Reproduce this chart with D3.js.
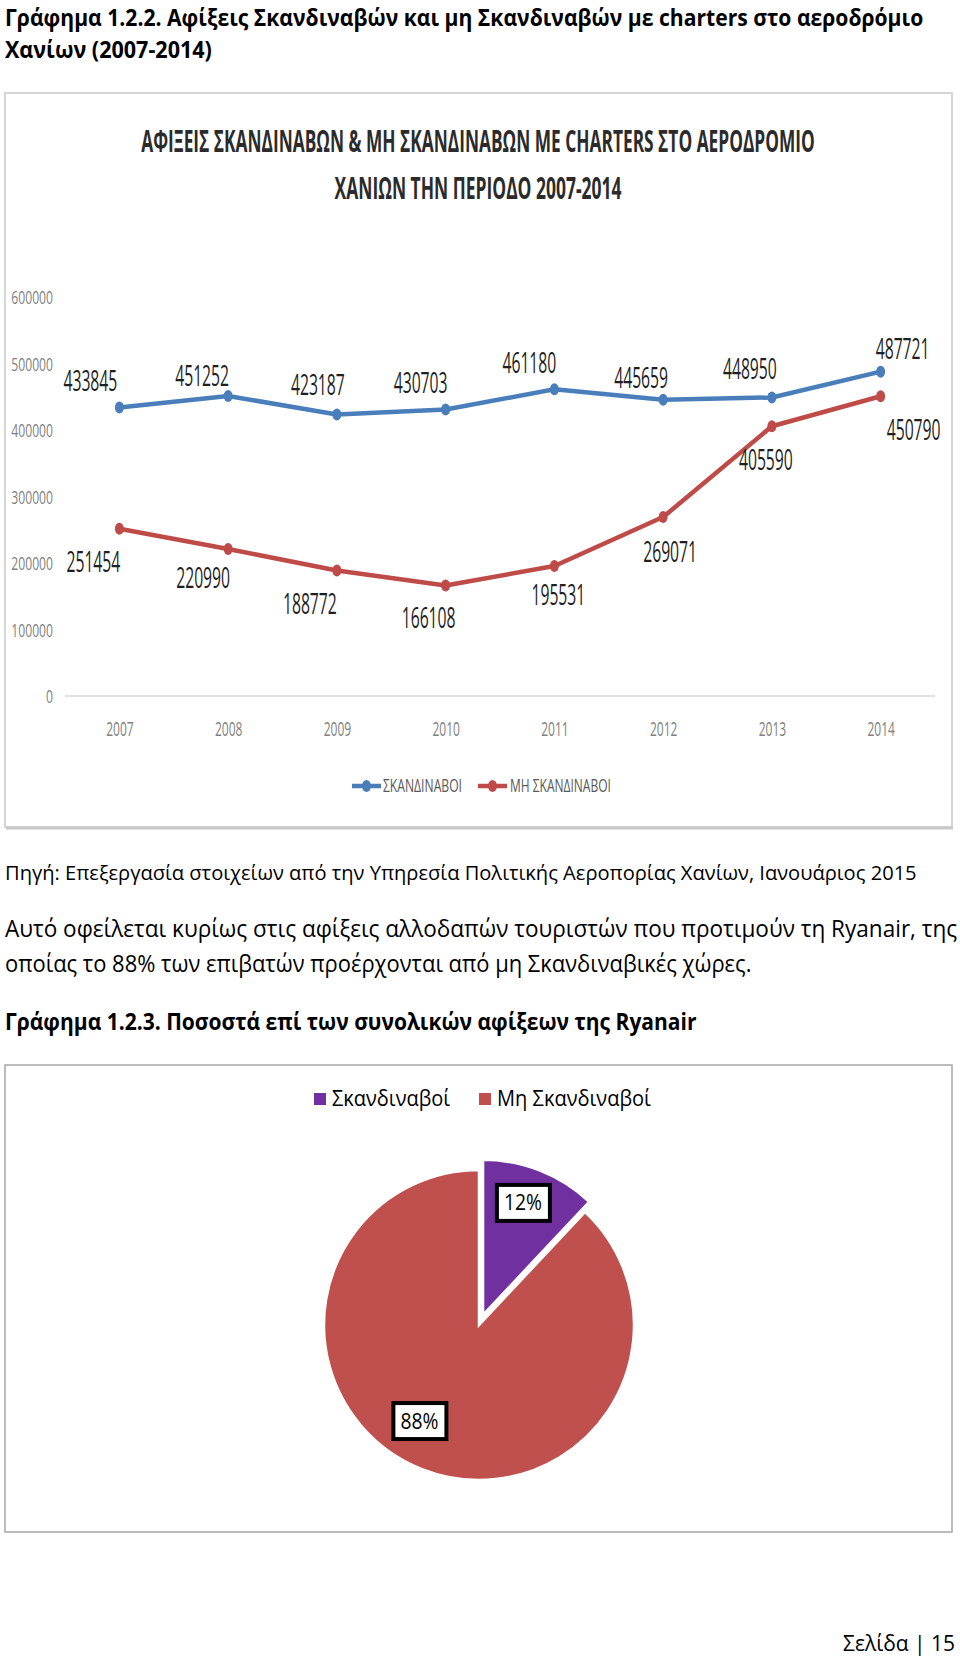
<!DOCTYPE html>
<html>
<head>
<meta charset="utf-8">
<script src="https://cdn.jsdelivr.net/npm/d3@7"></script>
<style>
  html, body { margin: 0; padding: 0; background: #fff; }
  svg { display: block; }
</style>
</head>
<body>
<svg id="page" width="960" height="1659"></svg>
<script>
// ---------- DATA ----------
const years = ["2007", "2008", "2009", "2010", "2011", "2012", "2013", "2014"];
const scandinavians = [433845, 451252, 423187, 430703, 461180, 445659, 448950, 487721];
const nonScandinavians = [251454, 220990, 188772, 166108, 195531, 269071, 405590, 450790];
const yTicks = [0, 100000, 200000, 300000, 400000, 500000, 600000];
const seriesNames = ["ΣΚΑΝΔΙΝΑΒΟΙ", "ΜΗ ΣΚΑΝΔΙΝΑΒΟΙ"];
const pieLabels = ["Σκανδιναβοί", "Μη Σκανδιναβοί"];
const pieValues = [12, 88];

// ---------- LAYOUT (label nudges, not data) ----------
const blueLabelOffsets = [[-29,-26],[-26,-20],[-19,-30],[-25,-27],[-25,-26],[-22,-22],[-22,-28],[22,-23]];
const redLabelOffsets  = [[-26,33],[-25,29],[-27,34],[-17,32],[4,29],[7,35],[-6,34],[33,34]];

const svg = d3.select("#page");
const FONT = "'Open Sans', 'Noto Sans', 'DejaVu Sans', sans-serif";
const BLUE = "#4a7ebb", RED = "#be4b48", PURPLE = "#7030a0", PIERED = "#c0504d";

// text helper: positioned with a transform, optionally squeezed horizontally to a target width
function txt(g, s, x, y, opts) {
  const t = g.append("text").attr("x", 0).attr("y", 0).text(s)
    .attr("font-family", FONT)
    .attr("font-size", opts.size || 16)
    .attr("font-weight", opts.weight || "normal")
    .attr("fill", opts.fill || "#000")
    .attr("text-anchor", opts.anchor || "start");
  let tr = `translate(${x},${y})`;
  if (opts.len) {
    const natural = t.node().getComputedTextLength();
    if (natural > 0) tr += ` scale(${(opts.len / natural).toFixed(4)},1)`;
  }
  t.attr("transform", tr);
  return t;
}

// ---------- PAGE TEXT ----------
txt(svg, "Γράφημα 1.2.2. Αφίξεις Σκανδιναβών και μη Σκανδιναβών με charters στο αεροδρόμιο", 5, 26, {size: 23.5, weight: "bold", len: 919});
txt(svg, "Χανίων (2007-2014)", 5, 58, {size: 23.5, weight: "bold", len: 207});

// ---------- LINE CHART ----------
const chart = svg.append("g");
chart.append("rect").attr("x", 5).attr("y", 93).attr("width", 947).attr("height", 734)
  .attr("fill", "#fff").attr("stroke", "#d6d6d6").attr("stroke-width", 2);
chart.append("line").attr("x1", 6).attr("x2", 953).attr("y1", 828).attr("y2", 828)
  .attr("stroke", "#c8c8c8").attr("stroke-width", 3);

txt(chart, "ΑΦΙΞΕΙΣ ΣΚΑΝΔΙΝΑΒΩΝ & ΜΗ ΣΚΑΝΔΙΝΑΒΩΝ ΜΕ CHARTERS ΣΤΟ ΑΕΡΟΔΡΟΜΙΟ", 478, 152,
  {size: 31, weight: "bold", fill: "#2b2b2b", anchor: "middle", len: 674});
txt(chart, "ΧΑΝΙΩΝ ΤΗΝ ΠΕΡΙΟΔΟ 2007-2014", 478, 199,
  {size: 31, weight: "bold", fill: "#2b2b2b", anchor: "middle", len: 287});

const x = d3.scalePoint().domain(years).range([65, 935]).padding(0.5);
const y = d3.scaleLinear().domain([0, 600000]).range([696, 297]);

// baseline gridline
chart.append("line").attr("x1", 65).attr("x2", 935).attr("y1", y(0)).attr("y2", y(0))
  .attr("stroke", "#d9d9d9").attr("stroke-width", 1.5);

// y axis
const yAxis = chart.append("g").attr("transform", "translate(65,0)")
  .call(d3.axisLeft(y).tickValues(yTicks).tickSize(0).tickFormat(d3.format("d")));
yAxis.select(".domain").remove();
yAxis.selectAll("text").attr("x", 0).attr("dy", "0.35em")
  .attr("transform", "translate(-12,0) scale(0.64,1)")
  .attr("font-family", FONT).attr("font-size", 19).attr("fill", "#7f7f7f");

// x axis
const xAxis = chart.append("g").attr("transform", `translate(0,${y(0)})`)
  .call(d3.axisBottom(x).tickSize(0));
xAxis.select(".domain").remove();
xAxis.selectAll("text").attr("y", 0).attr("dy", null)
  .attr("transform", "translate(0,40) scale(0.6,1)")
  .attr("font-family", FONT).attr("font-size", 20).attr("fill", "#7f7f7f");

const line = d3.line().x((d, i) => x(years[i])).y(d => y(d));
const series = [
  {name: seriesNames[0], values: scandinavians, color: BLUE, offs: blueLabelOffsets},
  {name: seriesNames[1], values: nonScandinavians, color: RED, offs: redLabelOffsets}
];
series.forEach(s => {
  chart.append("path").datum(s.values).attr("d", line)
    .attr("fill", "none").attr("stroke", s.color).attr("stroke-width", 4.5)
    .attr("stroke-linejoin", "round");
  chart.selectAll(null).data(s.values).enter().append("ellipse")
    .attr("cx", (d, i) => x(years[i])).attr("cy", d => y(d))
    .attr("rx", 4.5).attr("ry", 6).attr("fill", s.color);
  s.values.forEach((d, i) => {
    txt(chart, String(d), x(years[i]) + s.offs[i][0], y(d) + s.offs[i][1] + 10,
      {size: 29, fill: "#1f1f1f", anchor: "middle", len: 54});
  });
});

// legend
const legendItems = [
  {name: seriesNames[0], color: BLUE, x0: 352, tx: 383, len: 79},
  {name: seriesNames[1], color: RED, x0: 478, tx: 510, len: 101}
];
legendItems.forEach(l => {
  chart.append("line").attr("x1", l.x0).attr("x2", l.x0 + 29).attr("y1", 786).attr("y2", 786)
    .attr("stroke", l.color).attr("stroke-width", 4.5);
  chart.append("ellipse").attr("cx", l.x0 + 14.5).attr("cy", 786).attr("rx", 4.5).attr("ry", 6).attr("fill", l.color);
  txt(chart, l.name, l.tx, 792, {size: 19, fill: "#595959", len: l.len});
});

// ---------- MIDDLE TEXT ----------
txt(svg, "Πηγή: Επεξεργασία στοιχείων από την Υπηρεσία Πολιτικής Αεροπορίας Χανίων, Ιανουάριος 2015", 5, 880, {size: 20, len: 912});
txt(svg, "Αυτό οφείλεται κυρίως στις αφίξεις αλλοδαπών τουριστών που προτιμούν τη Ryanair, της", 5, 937, {size: 23, len: 953});
txt(svg, "οποίας το 88% των επιβατών προέρχονται από μη Σκανδιναβικές χώρες.", 5, 972, {size: 23, len: 747});
txt(svg, "Γράφημα 1.2.3. Ποσοστά επί των συνολικών αφίξεων της Ryanair", 5, 1030, {size: 23, weight: "bold", len: 692});

// ---------- PIE CHART ----------
const pieG = svg.append("g");
pieG.append("rect").attr("x", 5).attr("y", 1065).attr("width", 947).attr("height", 467)
  .attr("fill", "#fff").attr("stroke", "#a6a6a6").attr("stroke-width", 1.5);

const pieColors = [PURPLE, PIERED];
const pieLegend = [{sx: 314, tx: 332, len: 118}, {sx: 479, tx: 497, len: 154}];
pieLabels.forEach((name, i) => {
  pieG.append("rect").attr("x", pieLegend[i].sx).attr("y", 1093).attr("width", 12).attr("height", 12)
    .attr("fill", pieColors[i]);
  txt(pieG, name, pieLegend[i].tx, 1106, {size: 21, fill: "#000", len: pieLegend[i].len});
});

const cx = 479, cy = 1325, R = 155, explode = [11, 0];
const pie = d3.pie().sort(null).value(d => d);
const arcs = pie(pieValues);
const arc = d3.arc().innerRadius(0).outerRadius(R);
const center = pieG.append("g").attr("transform", `translate(${cx},${cy})`);
const labelR = [130, 113];
const labelNudge = [[-8, 9], [-18, -9]];
arcs.forEach((a, i) => {
  const mid = (a.startAngle + a.endAngle) / 2;
  const ox = Math.sin(mid) * explode[i], oy = -Math.cos(mid) * explode[i];
  center.append("path").attr("d", arc(a))
    .attr("transform", `translate(${ox},${oy})`)
    .attr("fill", pieColors[i]).attr("stroke", "#fff").attr("stroke-width", 2.5);
});
arcs.forEach((a, i) => {
  const mid = (a.startAngle + a.endAngle) / 2;
  const ox = Math.sin(mid) * explode[i], oy = -Math.cos(mid) * explode[i];
  const lx = ox + Math.sin(mid) * labelR[i] + labelNudge[i][0];
  const ly = oy - Math.cos(mid) * labelR[i] + labelNudge[i][1];
  center.append("rect").attr("x", lx - 26).attr("y", ly - 18).attr("width", 53).attr("height", 36)
    .attr("fill", "#fff").attr("stroke", "#000").attr("stroke-width", 4);
  txt(center, pieValues[i] + "%", lx, ly + 7.5, {size: 21, fill: "#000", anchor: "middle", len: 38});
});

// ---------- FOOTER ----------
txt(svg, "Σελίδα | 15", 955, 1651, {size: 22, anchor: "end", len: 112});
</script>
</body>
</html>
